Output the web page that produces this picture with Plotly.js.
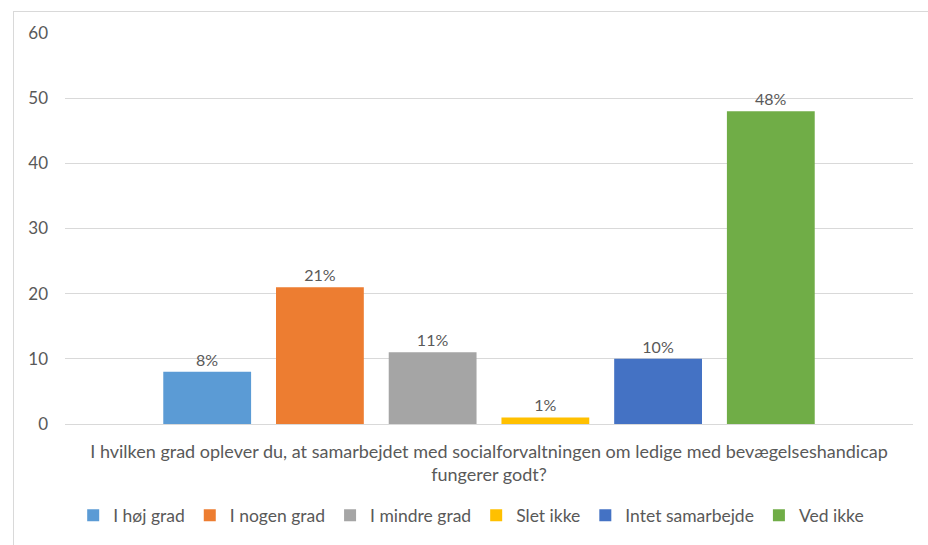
<!DOCTYPE html>
<html>
<head>
<meta charset="utf-8">
<script src="https://cdn.plot.ly/plotly-3.0.1.min.js"></script>
<style>
  html, body { margin: 0; padding: 0; background: #ffffff; }
  #wrap { position: relative; width: 928px; height: 545px; overflow: hidden; }
  #chart { position: absolute; left: 0; top: 0; width: 928px; height: 545px; }
  #frame {
    position: absolute; left: 13px; top: 11px; width: 1000px; height: 600px;
    border-left: 1px solid #d9d9d9; border-top: 1px solid #d9d9d9;
    pointer-events: none;
  }
</style>
</head>
<body>
<div id="wrap">
  <div id="chart"></div>
  <div id="frame"></div>
</div>
<script>
// Survey question (single category on the x axis), shown on two lines
const questionLines = [
  "I hvilken grad oplever du, at samarbejdet med socialforvaltningen om ledige med bevægelseshandicap",
  "fungerer godt?"
];
const category = questionLines.join("<br>");

// Answer options and their shares (percent)
const answers = ["I høj grad", "I nogen grad", "I mindre grad", "Slet ikke", "Intet samarbejde", "Ved ikke"];
const shares = [8, 21, 11, 1, 10, 48];
const barLabels = shares.map(v => v + "%");
const colors = ["#5b9bd5", "#ed7d31", "#a5a5a5", "#ffc000", "#4472c4", "#70ad47"];

// Y axis ticks
const yTicks = [0, 10, 20, 30, 40, 50, 60];

const textColor = "#595959";
const fontFamily = "Lato, 'Open Sans', sans-serif";

const traces = answers.map((name, i) => ({
  type: "bar",
  name: name,
  x: [category],
  y: [shares[i]],
  text: [barLabels[i]],
  textposition: "outside",
  cliponaxis: false,
  textfont: { family: fontFamily, size: 16, color: textColor },
  marker: { color: colors[i], line: { width: 0 } },
  hoverinfo: "name+y"
}));

const layout = {
  width: 928,
  height: 545,
  margin: { l: 65, r: 15, t: 33, b: 118 },
  paper_bgcolor: "rgba(0,0,0,0)",
  plot_bgcolor: "rgba(0,0,0,0)",
  font: { family: fontFamily, color: textColor, size: 16 },
  barmode: "group",
  bargap: 0.2024,
  bargroupgap: 0.221,
  showlegend: true,
  legend: {
    orientation: "h",
    x: 0.479,
    xanchor: "center",
    y: -0.234,
    yanchor: "middle",
    font: { family: fontFamily, size: 17.5, color: textColor },
    traceorder: "normal",
    itemclick: false,
    itemdoubleclick: false
  },
  xaxis: {
    type: "category",
    showgrid: false,
    showline: false,
    zeroline: false,
    ticks: "",
    ticklabelstandoff: 15,
    tickfont: { family: fontFamily, size: 18, color: textColor },
    fixedrange: true
  },
  yaxis: {
    range: [0, 60],
    tickvals: yTicks,
    ticktext: yTicks.map(String),
    showgrid: true,
    gridcolor: "#d9d9d9",
    gridwidth: 1,
    zeroline: true,
    zerolinecolor: "#d9d9d9",
    zerolinewidth: 1,
    showline: false,
    ticks: "",
    ticklabelstandoff: 16,
    tickfont: { family: fontFamily, size: 17, color: textColor },
    fixedrange: true
  }
};

Plotly.newPlot("chart", traces, layout, { displayModeBar: false });
</script>
</body>
</html>
